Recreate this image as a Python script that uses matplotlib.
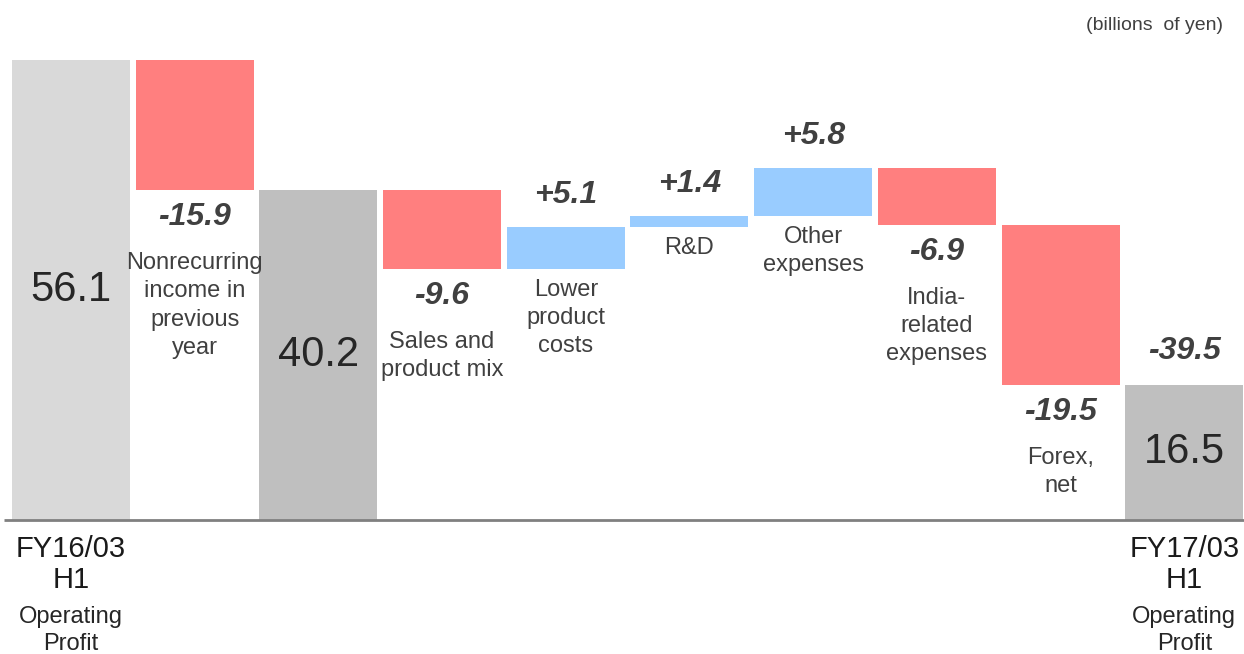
import numpy as np
import matplotlib.pyplot as plt

plt.rcParams['font.family'] = ['Liberation Sans', 'DejaVu Sans']

# operating profit bridge, billions of yen
values = [56.1, -15.9, 40.2, -9.6, 5.1, 1.4, 5.8, -6.9, -19.5, 16.5]
kinds = ['start', 'delta', 'sub', 'delta', 'delta', 'delta', 'delta', 'delta', 'delta', 'end']
labels = ['', 'Nonrecurring\nincome in\nprevious\nyear', '', 'Sales and\nproduct mix',
          'Lower\nproduct\ncosts', 'R&D', 'Other\nexpenses', 'India-\nrelated\nexpenses',
          'Forex,\nnet', '']
period_labels = {0: 'FY16/03\nH1', 9: 'FY17/03\nH1'}
total_change = -39.5
unit = '(billions  of yen)'

colors = {'start': '#d9d9d9', 'sub': '#bfbfbf', 'end': '#bfbfbf',
          'up': '#99ccff', 'down': '#ff7f7f'}
txt = '#404040'

fig = plt.figure(figsize=(12.44, 6.54), dpi=100)
ax = fig.add_axes([0, 0, 1, 1])
ax.set_xlim(-0.574, 9.483)
ax.set_ylim(-16.34, 63.41)
ax.axis('off')

x = np.arange(len(values))
level = 0.0
for i, (v, k) in enumerate(zip(values, kinds)):
    if k == 'delta':
        bottom = level + min(v, 0)
        level += v
        c = colors['up'] if v > 0 else colors['down']
        ax.bar(x[i], abs(v), bottom=bottom, width=0.954, color=c, linewidth=0)
        top = bottom + abs(v)
        if v > 0:
            ax.annotate('%+.1f' % v, (x[i], top), xytext=(0, 32), textcoords='offset pixels',
                        ha='center', va='center', fontsize=23, fontweight='bold',
                        fontstyle='italic', color=txt)
            lab_off = -10
        else:
            ax.annotate('%.1f' % v, (x[i], bottom), xytext=(0, -27), textcoords='offset pixels',
                        ha='center', va='center', fontsize=23, fontweight='bold',
                        fontstyle='italic', color=txt)
            lab_off = -62
        ax.annotate(labels[i], (x[i], bottom), xytext=(0, lab_off), textcoords='offset pixels',
                    ha='center', va='top', multialignment='center', fontsize=17,
                    color=txt, linespacing=1.36)
    else:
        level = v
        ax.bar(x[i], v, width=0.954, color=colors[k], linewidth=0)
        ax.text(x[i], v / 2, '%.1f' % v, ha='center', va='center', fontsize=30, color='#262626')

# overall change above the closing bar
ax.annotate('%.1f' % total_change, (x[-1], values[-1]), xytext=(0, 34), textcoords='offset pixels',
            ha='center', va='center', fontsize=23, fontweight='bold', fontstyle='italic', color=txt)

# baseline
ax.plot([-0.54, 9.49], [0, 0], color='#808080', lw=2, solid_capstyle='butt')

for i, s in period_labels.items():
    ax.annotate(s, (x[i], 0), xytext=(0, -15), textcoords='offset pixels', ha='center',
                va='top', fontsize=21, color='#1a1a1a', linespacing=1.15)
    ax.annotate('Operating\nProfit', (x[i], 0), xytext=(0, -86), textcoords='offset pixels',
                ha='center', va='top', fontsize=17, color='#262626', linespacing=1.28)

fig.text(1223 / 1244, 1 - 26 / 654, unit, ha='right', va='center', fontsize=14, color=txt)

fig.savefig('out.png', dpi=100)
